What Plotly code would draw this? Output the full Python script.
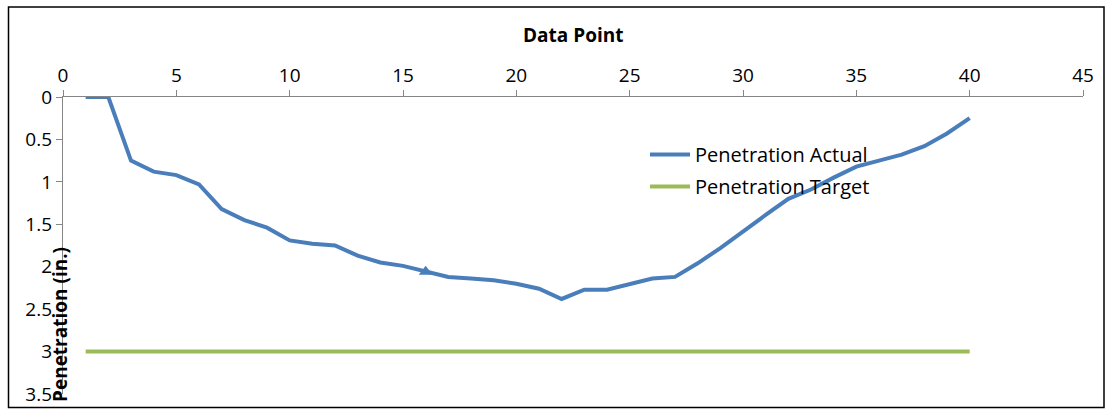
import plotly.graph_objects as go

data_point = list(range(1, 41))
penetration_actual = [0, 0, 0.75, 0.88, 0.92, 1.03, 1.32, 1.45, 1.54, 1.69,
                      1.73, 1.75, 1.87, 1.95, 1.99, 2.06, 2.12, 2.14, 2.16, 2.20,
                      2.26, 2.38, 2.27, 2.27, 2.20, 2.14, 2.12, 1.96, 1.78, 1.58,
                      1.39, 1.20, 1.09, 0.95, 0.82, 0.75, 0.68, 0.58, 0.43, 0.25]
penetration_target = [3.0] * 40
x_ticks = [0, 5, 10, 15, 20, 25, 30, 35, 40, 45]
y_ticks = [0, 0.5, 1, 1.5, 2, 2.5, 3, 3.5]

FONT = "Open Sans"
W, H = 1112, 412
ml, mr, mt, mb = 63, 29, 97, 18

marker_sizes = [0] * 40
marker_sizes[15] = 12

fig = go.Figure()
fig.add_trace(go.Scatter(
    x=data_point, y=penetration_actual, name="Penetration Actual",
    mode="lines+markers", legendgroup="a",
    line=dict(color="#4A7EBB", width=4),
    marker=dict(symbol="triangle-up", size=marker_sizes, color="#4A7EBB",
                opacity=1, line=dict(width=0)),
))
fig.add_trace(go.Scatter(
    x=data_point, y=penetration_target, name="Penetration Target",
    mode="lines", legendgroup="b",
    line=dict(color="#9BBB59", width=4),
))

pw = W - ml - mr
ph = H - mt - mb

def px_x(p):
    return (p - ml) / pw

def px_y(p):
    return (H - mb - p) / ph

fig.update_layout(
    width=W, height=H, autosize=False,
    margin=dict(l=ml, r=mr, t=mt, b=mb, autoexpand=False),
    paper_bgcolor="white", plot_bgcolor="white",
    font=dict(family=FONT, size=19, color="black"),
    showlegend=True,
    legend=dict(x=px_x(645), y=px_y(135), xanchor="left", yanchor="top",
                bgcolor="rgba(0,0,0,0)", font=dict(size=20, family=FONT),
                itemwidth=40, tracegroupgap=3, traceorder="grouped"),
    xaxis=dict(range=[0, 45], tickvals=x_ticks, side="top", automargin=False,
               showgrid=False, zeroline=False, showline=True,
               linecolor="#868686", linewidth=1.3, ticks="outside",
               ticklen=6, tickcolor="#868686",
               tickfont=dict(size=19, family=FONT)),
    yaxis=dict(range=[3.5, 0], tickvals=y_ticks, ticktext=[str(v) for v in y_ticks],
               automargin=False,
               showgrid=False, zeroline=False, showline=True,
               linecolor="#868686", linewidth=1.3, ticks="outside",
               ticklen=6, tickcolor="#868686",
               tickfont=dict(size=19, family=FONT)),
    shapes=[dict(type="rect", xref="paper", yref="paper",
                 x0=px_x(8.5), x1=px_x(1104), y0=px_y(407.5), y1=px_y(7),
                 line=dict(color="black", width=1.5), layer="below")],
    annotations=[
        dict(text="<b>Data Point</b>", xref="paper", yref="paper",
             x=px_x(573), y=px_y(35), showarrow=False,
             xanchor="center", yanchor="middle",
             font=dict(size=19, family=FONT)),
        dict(text="<b>Penetration (in.)</b>", xref="paper", yref="paper",
             x=px_x(60), y=px_y(325), showarrow=False, textangle=-90,
             xanchor="center", yanchor="middle",
             font=dict(size=19, family=FONT)),
    ],
)

fig.write_html("out.html",
               config={"displayModeBar": False, "responsive": False},
               post_script="document.body.style.margin='0';document.body.style.overflow='hidden';")
